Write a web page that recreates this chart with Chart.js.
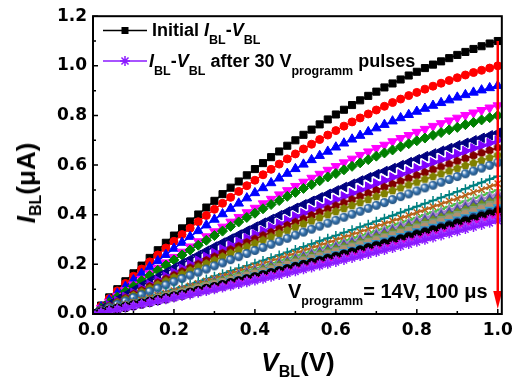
<!DOCTYPE html>
<html>
<head>
<meta charset="utf-8">
<script src="https://cdn.jsdelivr.net/npm/chart.js"></script>
<style>
  html, body { margin: 0; padding: 0; background: #fff; overflow: hidden; }
  #wrap { position: relative; width: 519px; height: 384px; }
  .txt { position: absolute; font-family: 'Liberation Sans', Arial, sans-serif; font-weight: bold;
         line-height: 1; white-space: nowrap; color: #000; }
  .txt sub { line-height: 0; }
</style>
</head>
<body>
<div id="wrap">
  <canvas id="grafico"></canvas>
  <div class="txt" style="left:152px;top:20.8px;font-size:18px">Initial <i>I</i><sub style="font-size:12.5px;vertical-align:-8px">BL</sub>-<i>V</i><sub style="font-size:12.5px;vertical-align:-8px">BL</sub></div>
  <div class="txt" style="left:149px;top:51.8px;font-size:18px"><i>I</i><sub style="font-size:12.5px;vertical-align:-8px">BL</sub>-<i>V</i><sub style="font-size:12.5px;vertical-align:-8px">BL</sub> after 30 V<sub style="font-size:12.5px;vertical-align:-8px">programm</sub> pulses</div>
  <div class="txt" style="left:288px;top:281px;font-size:20px">V<sub style="font-size:12.5px;vertical-align:-7px">programm</sub>= 14V, 100 μs</div>
  <div class="txt" style="left:298px;top:349px;font-size:26px;transform:translateX(-50%)"><i>V</i><sub style="font-size:16px;vertical-align:-6px">BL</sub>(V)</div>
  <div class="txt" style="left:26px;top:183px;font-size:26px;transform:translate(-50%,-50%) rotate(-90deg)"><i>I</i><sub style="font-size:16px;vertical-align:-6px">BL</sub>(μA)</div>
</div>
<script>
// datos
const vbl = [0,0.02,0.04,0.06,0.08,0.10,0.12,0.14,0.16,0.18,0.20,0.22,0.24,0.26,0.28,0.30,0.32,0.34,0.36,0.38,0.40,0.42,0.44,0.46,0.48,0.50,0.52,0.54,0.56,0.58,0.60,0.62,0.64,0.66,0.68,0.70,0.72,0.74,0.76,0.78,0.80,0.82,0.84,0.86,0.88,0.90,0.92,0.94,0.96,0.98,1.00];

// initial curve
const ibl01 = [0,0.034,0.067,0.100,0.132,0.164,0.195,0.226,0.257,0.287,0.316,0.345,0.373,0.401,0.429,0.456,0.483,0.509,0.534,0.559,0.584,0.608,0.632,0.655,0.678,0.700,0.722,0.743,0.764,0.784,0.804,0.823,0.842,0.861,0.879,0.896,0.913,0.929,0.945,0.961,0.976,0.991,1.005,1.018,1.031,1.044,1.056,1.068,1.079,1.090,1.100];
const ibl02 = [0,0.031,0.062,0.093,0.123,0.152,0.181,0.210,0.238,0.266,0.293,0.320,0.346,0.372,0.397,0.422,0.446,0.470,0.494,0.517,0.539,0.561,0.583,0.604,0.625,0.645,0.665,0.684,0.703,0.721,0.739,0.757,0.774,0.790,0.806,0.822,0.837,0.852,0.866,0.880,0.893,0.906,0.918,0.930,0.941,0.952,0.963,0.973,0.982,0.991,1.000];
const ibl03 = [0,0.028,0.056,0.083,0.110,0.137,0.163,0.189,0.214,0.239,0.264,0.288,0.312,0.335,0.358,0.381,0.403,0.425,0.446,0.467,0.488,0.508,0.528,0.547,0.566,0.585,0.603,0.621,0.638,0.655,0.672,0.688,0.704,0.719,0.734,0.749,0.763,0.777,0.790,0.803,0.816,0.828,0.840,0.851,0.862,0.873,0.883,0.893,0.902,0.911,0.920];
const ibl04 = [0,0.024,0.048,0.072,0.095,0.118,0.141,0.163,0.185,0.207,0.229,0.250,0.271,0.292,0.312,0.332,0.351,0.371,0.390,0.409,0.427,0.445,0.463,0.481,0.498,0.515,0.532,0.548,0.564,0.580,0.595,0.610,0.625,0.640,0.654,0.668,0.681,0.695,0.708,0.720,0.733,0.745,0.757,0.768,0.779,0.790,0.801,0.811,0.821,0.831,0.840];
const ibl05 = [0,0.023,0.046,0.068,0.091,0.112,0.134,0.155,0.176,0.197,0.218,0.238,0.258,0.277,0.297,0.316,0.334,0.353,0.371,0.389,0.406,0.424,0.441,0.457,0.474,0.490,0.506,0.521,0.537,0.552,0.566,0.581,0.595,0.609,0.622,0.636,0.649,0.661,0.674,0.686,0.698,0.709,0.720,0.731,0.742,0.752,0.763,0.772,0.782,0.791,0.800];
const ibl06 = [0,0.020,0.039,0.058,0.077,0.096,0.114,0.132,0.150,0.168,0.186,0.204,0.221,0.238,0.255,0.272,0.288,0.304,0.320,0.336,0.352,0.368,0.383,0.398,0.413,0.428,0.442,0.456,0.470,0.484,0.498,0.512,0.525,0.538,0.551,0.564,0.576,0.588,0.600,0.612,0.624,0.636,0.647,0.658,0.669,0.680,0.690,0.700,0.710,0.720,0.730];
const ibl07 = [0,0.017,0.035,0.052,0.069,0.085,0.102,0.118,0.135,0.151,0.167,0.183,0.199,0.215,0.230,0.246,0.261,0.276,0.291,0.306,0.321,0.335,0.350,0.364,0.378,0.393,0.406,0.420,0.434,0.447,0.461,0.474,0.487,0.500,0.513,0.526,0.538,0.551,0.563,0.575,0.587,0.599,0.611,0.622,0.634,0.645,0.657,0.668,0.679,0.689,0.700];
const ibl08 = [0,0.016,0.032,0.048,0.064,0.080,0.095,0.111,0.126,0.141,0.156,0.171,0.186,0.201,0.216,0.230,0.245,0.259,0.273,0.288,0.302,0.316,0.329,0.343,0.357,0.370,0.383,0.397,0.410,0.423,0.436,0.448,0.461,0.474,0.486,0.498,0.511,0.523,0.535,0.547,0.558,0.570,0.582,0.593,0.604,0.616,0.627,0.638,0.649,0.659,0.670];
const ibl09 = [0,0.015,0.030,0.045,0.060,0.075,0.089,0.104,0.119,0.133,0.147,0.161,0.176,0.190,0.203,0.217,0.231,0.245,0.258,0.271,0.285,0.298,0.311,0.324,0.337,0.350,0.363,0.375,0.388,0.400,0.413,0.425,0.437,0.449,0.461,0.473,0.485,0.497,0.508,0.520,0.531,0.543,0.554,0.565,0.576,0.587,0.598,0.608,0.619,0.630,0.640];
const ibl10 = [0,0.013,0.026,0.039,0.052,0.066,0.078,0.091,0.104,0.117,0.130,0.143,0.156,0.168,0.181,0.194,0.206,0.219,0.231,0.244,0.256,0.268,0.281,0.293,0.305,0.318,0.330,0.342,0.354,0.366,0.378,0.390,0.402,0.414,0.426,0.438,0.449,0.461,0.473,0.484,0.496,0.508,0.519,0.531,0.542,0.554,0.565,0.576,0.588,0.599,0.610];
const ibl11 = [0,0.010,0.020,0.029,0.039,0.049,0.059,0.069,0.079,0.090,0.100,0.110,0.120,0.131,0.141,0.152,0.162,0.173,0.184,0.194,0.205,0.216,0.227,0.238,0.249,0.260,0.271,0.282,0.294,0.305,0.316,0.328,0.339,0.351,0.362,0.374,0.386,0.397,0.409,0.421,0.433,0.445,0.457,0.469,0.481,0.493,0.505,0.518,0.530,0.543,0.555];
const ibl12 = [0,0.009,0.018,0.028,0.037,0.046,0.056,0.065,0.075,0.084,0.094,0.103,0.113,0.123,0.133,0.143,0.153,0.163,0.173,0.183,0.193,0.203,0.214,0.224,0.235,0.245,0.256,0.266,0.277,0.287,0.298,0.309,0.320,0.331,0.342,0.353,0.364,0.375,0.386,0.397,0.409,0.420,0.432,0.443,0.455,0.466,0.478,0.490,0.501,0.513,0.525];
const ibl13 = [0,0.009,0.017,0.026,0.035,0.044,0.053,0.062,0.071,0.080,0.089,0.098,0.107,0.117,0.126,0.135,0.145,0.154,0.164,0.174,0.183,0.193,0.203,0.213,0.223,0.233,0.243,0.253,0.263,0.273,0.283,0.294,0.304,0.314,0.325,0.335,0.346,0.357,0.367,0.378,0.389,0.400,0.411,0.422,0.433,0.444,0.455,0.466,0.477,0.489,0.500];
const ibl14 = [0,0.008,0.017,0.025,0.034,0.042,0.051,0.059,0.068,0.077,0.086,0.095,0.104,0.113,0.122,0.131,0.140,0.149,0.158,0.168,0.177,0.187,0.196,0.206,0.215,0.225,0.235,0.245,0.254,0.264,0.274,0.284,0.294,0.304,0.315,0.325,0.335,0.345,0.356,0.366,0.377,0.387,0.398,0.409,0.419,0.430,0.441,0.452,0.463,0.474,0.485];
const ibl15 = [0,0.008,0.016,0.024,0.032,0.041,0.049,0.057,0.066,0.074,0.083,0.091,0.100,0.109,0.117,0.126,0.135,0.144,0.153,0.162,0.171,0.180,0.190,0.199,0.208,0.218,0.227,0.236,0.246,0.256,0.265,0.275,0.285,0.294,0.304,0.314,0.324,0.334,0.344,0.355,0.365,0.375,0.385,0.396,0.406,0.417,0.427,0.438,0.449,0.459,0.470];
const ibl16 = [0,0.008,0.016,0.024,0.032,0.040,0.048,0.056,0.064,0.072,0.081,0.089,0.098,0.106,0.115,0.123,0.132,0.141,0.149,0.158,0.167,0.176,0.185,0.194,0.203,0.213,0.222,0.231,0.240,0.250,0.259,0.269,0.278,0.288,0.298,0.307,0.317,0.327,0.337,0.347,0.357,0.367,0.377,0.387,0.397,0.408,0.418,0.428,0.439,0.449,0.460];
const ibl17 = [0,0.008,0.015,0.023,0.031,0.039,0.047,0.055,0.063,0.071,0.079,0.087,0.095,0.104,0.112,0.120,0.129,0.137,0.146,0.155,0.163,0.172,0.181,0.190,0.199,0.208,0.217,0.226,0.235,0.244,0.253,0.263,0.272,0.281,0.291,0.300,0.310,0.320,0.329,0.339,0.349,0.359,0.369,0.379,0.389,0.399,0.409,0.419,0.429,0.440,0.450];
const ibl18 = [0,0.007,0.015,0.022,0.030,0.038,0.045,0.053,0.061,0.069,0.077,0.085,0.093,0.101,0.109,0.117,0.126,0.134,0.142,0.151,0.159,0.168,0.176,0.185,0.194,0.203,0.211,0.220,0.229,0.238,0.247,0.256,0.265,0.275,0.284,0.293,0.303,0.312,0.322,0.331,0.341,0.350,0.360,0.370,0.380,0.390,0.400,0.410,0.420,0.430,0.440];
const ibl19 = [0,0.007,0.015,0.022,0.029,0.037,0.044,0.052,0.059,0.067,0.075,0.083,0.090,0.098,0.106,0.114,0.122,0.131,0.139,0.147,0.155,0.164,0.172,0.180,0.189,0.198,0.206,0.215,0.224,0.232,0.241,0.250,0.259,0.268,0.277,0.286,0.296,0.305,0.314,0.323,0.333,0.342,0.352,0.361,0.371,0.381,0.390,0.400,0.410,0.420,0.430];
const ibl20 = [0,0.007,0.014,0.021,0.028,0.036,0.043,0.050,0.058,0.065,0.073,0.080,0.088,0.096,0.103,0.111,0.119,0.127,0.135,0.143,0.151,0.159,0.168,0.176,0.184,0.193,0.201,0.209,0.218,0.227,0.235,0.244,0.253,0.261,0.270,0.279,0.288,0.297,0.306,0.316,0.325,0.334,0.343,0.353,0.362,0.372,0.381,0.391,0.401,0.410,0.420];
const ibl21 = [0,0.007,0.014,0.021,0.028,0.035,0.042,0.049,0.056,0.063,0.071,0.078,0.086,0.093,0.101,0.108,0.116,0.124,0.131,0.139,0.147,0.155,0.163,0.171,0.179,0.188,0.196,0.204,0.212,0.221,0.229,0.238,0.246,0.255,0.264,0.272,0.281,0.290,0.299,0.308,0.317,0.326,0.335,0.344,0.353,0.363,0.372,0.381,0.391,0.400,0.410];
const ibl22 = [0,0.007,0.013,0.020,0.026,0.033,0.040,0.047,0.054,0.061,0.068,0.075,0.082,0.089,0.096,0.104,0.111,0.119,0.126,0.134,0.141,0.149,0.157,0.164,0.172,0.180,0.188,0.196,0.204,0.212,0.220,0.228,0.237,0.245,0.253,0.262,0.270,0.279,0.287,0.296,0.305,0.314,0.322,0.331,0.340,0.349,0.358,0.367,0.377,0.386,0.395];
const ibl23 = [0,0.006,0.013,0.019,0.026,0.032,0.039,0.045,0.052,0.059,0.066,0.073,0.080,0.087,0.094,0.101,0.108,0.115,0.122,0.130,0.137,0.145,0.152,0.160,0.167,0.175,0.183,0.191,0.198,0.206,0.214,0.222,0.230,0.238,0.247,0.255,0.263,0.271,0.280,0.288,0.297,0.305,0.314,0.323,0.331,0.340,0.349,0.358,0.367,0.376,0.385];
// after the programming pulses
const ibl24 = [0,0.006,0.012,0.019,0.025,0.031,0.038,0.044,0.051,0.057,0.064,0.071,0.077,0.084,0.091,0.098,0.105,0.112,0.119,0.126,0.133,0.140,0.148,0.155,0.163,0.170,0.178,0.185,0.193,0.200,0.208,0.216,0.224,0.232,0.240,0.248,0.256,0.264,0.272,0.280,0.289,0.297,0.306,0.314,0.323,0.331,0.340,0.349,0.357,0.366,0.375];

const curvas = [ibl01,ibl02,ibl03,ibl04,ibl05,ibl06,ibl07,ibl08,ibl09,ibl10,ibl11,ibl12,ibl13,ibl14,ibl15,ibl16,ibl17,ibl18,ibl19,ibl20,ibl21,ibl22,ibl23,ibl24];

const xTicks = [0, 0.2, 0.4, 0.6, 0.8, 1.0];
const yTicks = [0, 0.2, 0.4, 0.6, 0.8, 1.0, 1.2];

// estilos
const colores = ['#000000','#FF0000','#0000FF','#FF00FF','#008000','#000080','#8000FF','#800000','#808000','#3C78B4','#008080','#B8621B','#4CC04C','#A383C8','#4B4BA3','#6B8E23','#7C9C7C','#B09070','#2E9BD0','#20407F','#000000','#E000E0','#A040FF','#8B1AFF'];
const marcadores = ['rect','circle','triangle','triangle','rectRot','triangle','triangle','hexagon','pentagon','sphere','cross','crossRot','cross','triangle','triangle','rectRot','rect','circle','triangle','circle','circle','star','triangle','star'];
const rotaciones = [0,0,0,180,0,270,90,0,0,0,0,0,0,0,0,0,0,0,180,0,0,0,0,0];
const radios = [5,4,5.5,5.5,5,5.5,5.5,4.5,4.5,4.5,4.5,4.5,4,4.5,5,4.5,4.5,4,4.5,3.5,4.5,4,4.5,4.5];
const grosores = [1.5,1.5,1.5,1.5,1.5,1.5,1.5,1.5,1.5,1.5,2,2,2,2,2,2,2,2,2,2,2,2,2,2];

function poligono(lados, color, r) {
    const c = document.createElement('canvas');
    const s = Math.ceil(r * 2 + 2);
    c.width = c.height = s;
    const g = c.getContext('2d');
    g.beginPath();
    for (let i = 0; i < lados; i++) {
        const a = -Math.PI / 2 + i * 2 * Math.PI / lados;
        g.lineTo(s / 2 + r * Math.cos(a), s / 2 + r * Math.sin(a));
    }
    g.closePath();
    g.fillStyle = color;
    g.fill();
    return c;
}

function esfera(color, r) {
    const c = document.createElement('canvas');
    const s = Math.ceil(r * 2 + 2);
    c.width = c.height = s;
    const g = c.getContext('2d');
    const m = s / 2;
    const grad = g.createRadialGradient(m - r * 0.35, m - r * 0.35, r * 0.1, m, m, r);
    grad.addColorStop(0, '#FFFFFF');
    grad.addColorStop(0.45, color);
    grad.addColorStop(1, '#1F4E79');
    g.fillStyle = grad;
    g.beginPath();
    g.arc(m, m, r, 0, Math.PI * 2);
    g.fill();
    return c;
}

function marcador(i) {
    const m = marcadores[i];
    if (m === 'hexagon') return poligono(6, colores[i], radios[i]);
    if (m === 'pentagon') return poligono(5, colores[i], radios[i]);
    if (m === 'sphere') return esfera(colores[i], radios[i]);
    return m;
}

const datasets = curvas.map((ys, i) => ({
    data: vbl.map((v, k) => ({ x: v, y: ys[k] })),
    borderColor: colores[i],
    backgroundColor: colores[i],
    borderWidth: grosores[i],
    pointStyle: marcador(i),
    pointRadius: radios[i],
    pointRotation: rotaciones[i],
    pointBackgroundColor: colores[i],
    pointBorderColor: colores[i],
    pointBorderWidth: grosores[i] > 1.5 ? 1.5 : 1,
    order: curvas.length - i
}));

// marco, ticks internos, flecha y muestras de leyenda
const marcoPlugin = {
    id: 'marco',
    afterDatasetsDraw(chart) {
        const { ctx, chartArea: a, scales: { x, y } } = chart;
        ctx.save();

        // flecha roja
        const xa = x.getPixelForValue(1.0);
        const yTop = y.getPixelForValue(1.10);
        const yTip = y.getPixelForValue(0.02);
        ctx.strokeStyle = '#FF0000';
        ctx.fillStyle = '#FF0000';
        ctx.lineWidth = 2.5;
        ctx.beginPath();
        ctx.moveTo(xa, yTop);
        ctx.lineTo(xa, yTip - 14);
        ctx.stroke();
        ctx.beginPath();
        ctx.moveTo(xa - 4.5, yTip - 18);
        ctx.lineTo(xa + 4.5, yTip - 18);
        ctx.lineTo(xa, yTip);
        ctx.closePath();
        ctx.fill();

        // marco
        ctx.strokeStyle = '#000';
        ctx.lineWidth = 2;
        ctx.strokeRect(a.left, a.top, a.right - a.left, a.bottom - a.top);

        // ticks hacia dentro
        ctx.lineWidth = 1.5;
        ctx.beginPath();
        for (let i = 0; i < yTicks.length; i++) {
            const p = y.getPixelForValue(yTicks[i]);
            ctx.moveTo(a.left, p); ctx.lineTo(a.left + 5, p);
            if (i < yTicks.length - 1) {
                const q = y.getPixelForValue((yTicks[i] + yTicks[i + 1]) / 2);
                ctx.moveTo(a.left, q); ctx.lineTo(a.left + 3, q);
            }
        }
        for (let i = 0; i < xTicks.length; i++) {
            const p = x.getPixelForValue(xTicks[i]);
            ctx.moveTo(p, a.bottom); ctx.lineTo(p, a.bottom - 5);
            if (i < xTicks.length - 1) {
                const q = x.getPixelForValue((xTicks[i] + xTicks[i + 1]) / 2);
                ctx.moveTo(q, a.bottom); ctx.lineTo(q, a.bottom - 3);
            }
        }
        ctx.stroke();

        // leyenda
        ctx.lineWidth = 1.5;
        ctx.strokeStyle = colores[0];
        ctx.beginPath();
        ctx.moveTo(103, 30.5); ctx.lineTo(147, 30.5);
        ctx.stroke();
        ctx.fillStyle = colores[0];
        ctx.fillRect(121.5, 27, 7, 7);

        const ult = colores[colores.length - 1];
        ctx.strokeStyle = ult;
        ctx.beginPath();
        ctx.moveTo(103, 61); ctx.lineTo(147, 61);
        ctx.stroke();
        ctx.beginPath();
        for (let k = 0; k < 4; k++) {
            const ang = k * Math.PI / 4;
            ctx.moveTo(125 - 5 * Math.cos(ang), 61 - 5 * Math.sin(ang));
            ctx.lineTo(125 + 5 * Math.cos(ang), 61 + 5 * Math.sin(ang));
        }
        ctx.stroke();

        ctx.restore();
    }
};

const fuenteTicks = { family: 'DejaVu Sans', size: 17, weight: 'bold' };

const ctx = document.getElementById('grafico').getContext('2d');
const grafico = new Chart(ctx, {
    type: 'line',
    data: { datasets },
    options: {
        responsive: true,
        maintainAspectRatio: false,
        animation: false,
        events: [],
        layout: { padding: { left: 0, right: 17, top: 14, bottom: 0 } },
        plugins: { legend: { display: false }, tooltip: { enabled: false } },
        elements: { line: { tension: 0 } },
        scales: {
            x: {
                type: 'linear',
                min: 0,
                max: 1.01,
                grid: { display: false, drawTicks: false },
                border: { display: false },
                afterBuildTicks: s => { s.ticks = xTicks.map(v => ({ value: v })); },
                afterFit: s => { s.height = 70; },
                ticks: { color: '#000', font: fuenteTicks, padding: 6, maxRotation: 0,
                         callback: v => Number(v).toFixed(1) }
            },
            y: {
                min: 0,
                max: 1.2,
                grid: { display: false, drawTicks: false },
                border: { display: false },
                afterBuildTicks: s => { s.ticks = yTicks.map(v => ({ value: v })); },
                afterFit: s => { s.width = 93; },
                ticks: { color: '#000', font: fuenteTicks, padding: 6,
                         callback: v => Number(v).toFixed(1) }
            }
        }
    },
    plugins: [marcoPlugin]
});
</script>
</body>
</html>
